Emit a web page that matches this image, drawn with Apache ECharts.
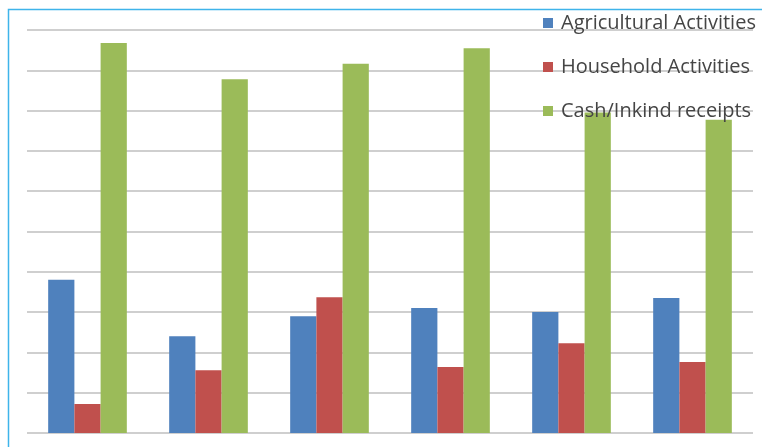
<!DOCTYPE html>
<html>
<head>
<meta charset="utf-8">
<script src="https://cdn.jsdelivr.net/npm/echarts@6/dist/echarts.min.js"></script>
<style>
  html, body { margin: 0; padding: 0; background: #ffffff; }
  #chart { width: 762px; height: 447px; }
</style>
</head>
<body>
<div id="chart"></div>
<script>
// Six groups, three activity measures each
var categories = ['1', '2', '3', '4', '5', '6'];
var agricultural = [3.8, 2.4, 2.9, 3.1, 3.0, 3.35];
var household = [0.72, 1.56, 3.37, 1.64, 2.23, 1.76];
var cashInkind = [9.68, 8.78, 9.16, 9.55, 7.95, 7.77];
var seriesNames = ['Agricultural Activities', 'Household Activities', 'Cash/Inkind receipts'];
var seriesColors = ['#4f81bd', '#c0504d', '#9bbb59'];

var chart = echarts.init(document.getElementById('chart'), null, { renderer: 'canvas' });

var values = [agricultural, household, cashInkind];
var series = seriesNames.map(function (name, i) {
  return {
    name: name,
    type: 'bar',
    data: values[i],
    itemStyle: { color: seriesColors[i] },
    barGap: '0%',
    barCategoryGap: '35%',
    animation: false
  };
});

chart.setOption({
  backgroundColor: '#ffffff',
  animation: false,
  graphic: [{
    type: 'rect',
    z: -10,
    shape: { x: 8.5, y: 9.5, width: 800, height: 500 },
    style: { fill: 'none', stroke: '#3fb4ea', lineWidth: 1.5 }
  }],
  grid: { left: 27, right: 9, top: 30, bottom: 14, containLabel: false },
  legend: {
    orient: 'vertical',
    left: 538,
    top: 6,
    padding: 5,
    itemWidth: 10,
    itemHeight: 10,
    itemGap: 20,
    itemStyle: { borderWidth: 0 },
    icon: 'rect',
    textStyle: { fontFamily: 'Open Sans', fontSize: 20, color: '#454545', lineHeight: 24, padding: [0, 0, 0, 3] },
    data: seriesNames
  },
  xAxis: {
    type: 'category',
    data: categories,
    axisLine: { show: false },
    axisTick: { show: false },
    axisLabel: { show: false }
  },
  yAxis: {
    type: 'value',
    min: 0,
    max: 10,
    interval: 1,
    axisLabel: { show: false },
    axisLine: { show: false },
    axisTick: { show: false },
    splitLine: { lineStyle: { color: '#cfcfcf', width: 2 } }
  },
  series: series
});
</script>
</body>
</html>
